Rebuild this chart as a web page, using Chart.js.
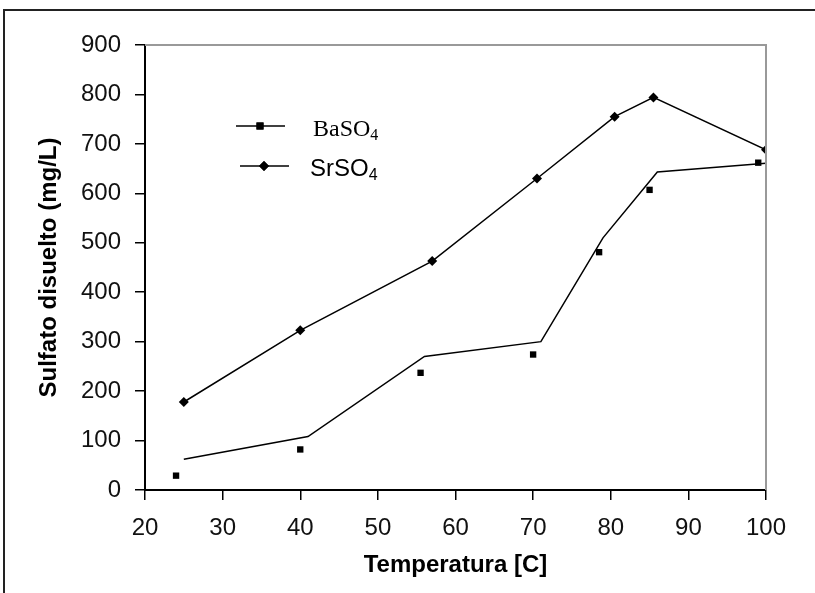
<!DOCTYPE html>
<html>
<head>
<meta charset="utf-8">
<script src="https://cdn.jsdelivr.net/npm/chart.js@4.4.1/dist/chart.umd.min.js"></script>
<style>
  html, body { margin: 0; padding: 0; background: #fff; }
  #wrap { position: relative; width: 815px; height: 593px; overflow: hidden; }
  #frame { position: absolute; left: 3px; top: 9px; width: 830px; height: 600px;
           border-top: 2px solid #222; border-left: 2px solid #222; }
  canvas { position: absolute; left: 0; top: 0; }
</style>
</head>
<body>
<div id="wrap">
  <div id="frame"></div>
  <canvas id="c" width="815" height="593"></canvas>
</div>
<script>
// measured BaSO4 points
const baTemps = [24, 40, 55.5, 70, 78.5, 85, 99];
const baValues = [29, 82, 237, 274, 481, 607, 662];
// BaSO4 smoothed line as drawn
const baLineTemps = [25, 41, 56, 71, 79, 86, 100];
const baLineValues = [62, 108, 270, 300, 510, 643, 661];
// SrSO4
const srTemps = [25, 40, 57, 70.5, 80.5, 85.5, 100];
const srValues = [178, 323, 463, 630, 755, 794, 688];

const seriesNames = ['BaSO4', 'SrSO4'];
const xTitle = 'Temperatura [C]';
const yTitle = 'Sulfato disuelto (mg/L)';

function pts(xs, ys) {
  return xs.map((x, i) => ({ x: x, y: ys[i] }));
}

// legend drawn inside the plot, with subscript digits
const insideLegend = {
  id: 'insideLegend',
  afterDraw(chart) {
    const ctx = chart.ctx;
    const rows = [
      { name: seriesNames[0], style: 'rect', font: '"Liberation Serif", "Times New Roman", serif', y: 126, lx: 236, tx: 313 },
      { name: seriesNames[1], style: 'rectRot', font: '"Liberation Sans", Arial, sans-serif', y: 166, lx: 240, tx: 310 }
    ];
    ctx.save();
    rows.forEach(r => {
      ctx.strokeStyle = '#000';
      ctx.lineWidth = 1.5;
      ctx.beginPath();
      ctx.moveTo(r.lx, r.y);
      ctx.lineTo(r.lx + 49, r.y);
      ctx.stroke();
      ctx.fillStyle = '#000';
      Chart.helpers.drawPoint(ctx, { pointStyle: r.style, radius: 5, borderWidth: 0 }, r.lx + 24, r.y);
      ctx.fill();
      const main = r.name.slice(0, -1);
      const sub = r.name.slice(-1);
      ctx.textBaseline = 'alphabetic';
      ctx.textAlign = 'left';
      ctx.font = '24px ' + r.font;
      ctx.fillText(main, r.tx, r.y + 10);
      const w = ctx.measureText(main).width;
      ctx.font = '16px ' + r.font;
      ctx.fillText(sub, r.tx + w, r.y + 14);
    });
    // grey frame on top and right of the plot
    const a = chart.chartArea;
    ctx.strokeStyle = '#999';
    ctx.lineWidth = 2;
    ctx.beginPath();
    ctx.moveTo(a.left, a.top);
    ctx.lineTo(a.right, a.top);
    ctx.lineTo(a.right, a.bottom);
    ctx.stroke();
    ctx.restore();
  }
};

const tickFont = { family: '"Liberation Sans", Arial, sans-serif', size: 24 };
const titleFont = { family: '"Liberation Sans", Arial, sans-serif', size: 24, weight: 'bold' };

new Chart(document.getElementById('c'), {
  type: 'scatter',
  data: {
    datasets: [
      {
        label: seriesNames[0],
        data: pts(baTemps, baValues),
        showLine: false,
        pointStyle: 'rect',
        pointRadius: 4.5,
        pointBackgroundColor: '#000',
        pointBorderWidth: 0
      },
      {
        label: seriesNames[0] + ' line',
        data: pts(baLineTemps, baLineValues),
        showLine: true,
        borderColor: '#000',
        borderWidth: 1.5,
        pointRadius: 0
      },
      {
        label: seriesNames[1],
        data: pts(srTemps, srValues),
        showLine: true,
        borderColor: '#000',
        borderWidth: 1.5,
        pointStyle: 'rectRot',
        pointRadius: 5,
        pointBackgroundColor: '#000',
        pointBorderWidth: 0
      }
    ]
  },
  options: {
    responsive: false,
    animation: false,
    layout: { padding: { top: 45, right: 49, left: 31, bottom: 0 } },
    plugins: {
      legend: { display: false },
      tooltip: { enabled: false }
    },
    scales: {
      x: {
        type: 'linear',
        min: 20,
        max: 100,
        afterFit: s => { s.height = 103; },
        ticks: { stepSize: 10, color: '#111', font: tickFont, padding: 14, maxRotation: 0 },
        grid: { drawOnChartArea: false, color: '#000', lineWidth: 1.5, tickLength: 10 },
        border: { display: true, color: '#000', width: 2 },
        title: { display: true, text: xTitle, color: '#000', font: titleFont, padding: { top: 4, bottom: 13 } }
      },
      y: {
        min: 0,
        max: 900,
        afterFit: s => { s.width = 114; },
        ticks: { stepSize: 100, color: '#111', font: tickFont, padding: 14 },
        grid: { drawOnChartArea: false, color: '#000', lineWidth: 1.5, tickLength: 10 },
        border: { display: true, color: '#000', width: 2 },
        title: { display: true, text: yTitle, color: '#000', font: titleFont, padding: { top: 4, bottom: 4 } }
      }
    }
  },
  plugins: [insideLegend]
});
</script>
</body>
</html>
